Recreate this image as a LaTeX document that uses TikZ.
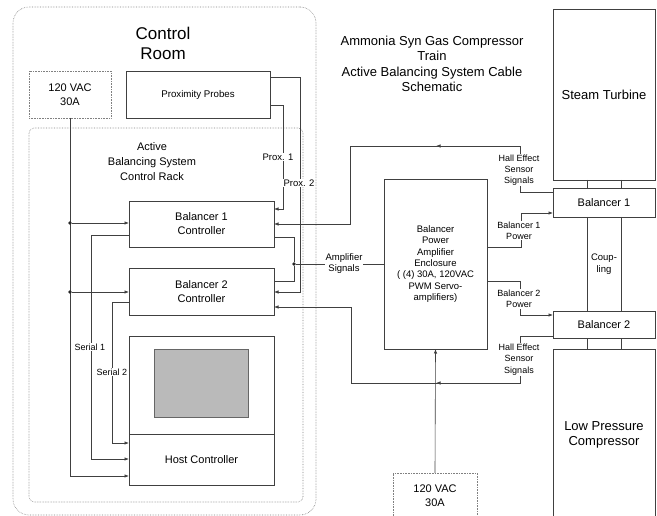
\documentclass[tikz,border=0pt]{standalone}
\usepackage{fontspec}
\setmainfont{Liberation Sans}
\usetikzlibrary{arrows.meta}
\begin{document}
\begin{tikzpicture}[x=1pt,y=-1pt,
  ln/.style={draw=black!75,line width=0.6pt},
  arr/.style={ln,-{Latex[length=4.5pt,width=3.4pt]}},
  dotbox/.style={draw=black!50,densely dotted,line width=0.6pt,inner sep=0pt,outer sep=0pt,align=center},
  box/.style={draw=black!75,line width=0.6pt,inner sep=0pt,outer sep=0pt,align=center},
  lbl/.style={fill=white,inner sep=1pt,align=center},
  jdot/.style={circle,fill=black!85,inner sep=0pt,minimum size=3.6pt},
  fnine/.style={font=\fontsize{9}{11.3}\selectfont},
  fninehalf/.style={font=\fontsize{9.5}{11.3}\selectfont},
  feleven/.style={font=\fontsize{11}{14}\selectfont},
  fthirteen/.style={font=\fontsize{13}{15.5}\selectfont}
]
\useasboundingbox (0,0) rectangle (657,516);

% containers
\node[dotbox,rounded corners=16pt,minimum width=303,minimum height=508] (room) at (164.5,261) {};
\node[align=center,font=\fontsize{17}{20}\selectfont] (roomlbl) at (163,43) {Control\\Room};
\node[dotbox,rounded corners=5pt,minimum width=274,minimum height=374] (rack) at (166,315) {};
\node[align=center,font=\fontsize{11}{15}\selectfont] (racklbl) at (152,162) {Active\\Balancing System\\Control Rack};

% title
\node[align=center,fthirteen] (title) at (432,64) {Ammonia Syn Gas Compressor\\Train\\Active Balancing System Cable\\Schematic};

% control room boxes
\node[dotbox,feleven,minimum width=82,minimum height=47] (vacA) at (70,94.5) {120 VAC\\30A};
\node[box,font=\fontsize{9.7}{12}\selectfont,minimum width=144,minimum height=47] (pp) at (198,94.5) {Proximity Probes};
\node[box,feleven,minimum width=145,minimum height=46] (b1c) at (201.5,224) {Balancer 1\\Controller};
\node[box,feleven,minimum width=145,minimum height=47] (b2c) at (201.5,291.5) {Balancer 2\\Controller};
\node[box,minimum width=145,minimum height=98] (hdisp) at (201.5,385) {};
\node[draw=black!60,fill=black!27,line width=0.5pt,inner sep=0pt,minimum width=94,minimum height=68] (screen) at (201,383) {};
\node[box,feleven,minimum width=145,minimum height=51] (host) at (201.5,459.5) {Host Controller};

% right side machinery
\node[box,fthirteen,minimum width=102,minimum height=171] (st) at (604,94.5) {Steam Turbine};
\node[box,feleven,minimum width=102,minimum height=29] (bal1) at (604,202.5) {Balancer 1};
\node[box,feleven,minimum width=102,minimum height=27] (bal2) at (604,324.5) {Balancer 2};
\node[box,minimum width=102,minimum height=181] (lpc) at (604,439.5) {};
\node[align=center,fthirteen] (lpclbl) at (604,435) {Low Pressure\\Compressor};

% amplifier enclosure and supply
\node[box,fninehalf,minimum width=103,minimum height=170] (enc) at (435.5,264) {Balancer\\Power\\Amplifier\\Enclosure\\( (4) 30A, 120VAC\\PWM Servo-\\amplifiers)};
\node[dotbox,minimum width=84,minimum height=57] (vacB) at (435,501.5) {};
\node[align=center,feleven] (vacBlbl) at (435,496) {120 VAC\\30A};

% shafts / coupling
\foreach \sx in {587,621}{
  \draw[ln] (st.south -| \sx,0) -- (bal1.north -| \sx,0);
  \draw[ln] (bal1.south -| \sx,0) -- (bal2.north -| \sx,0);
  \draw[ln] (bal2.south -| \sx,0) -- (lpc.north -| \sx,0);
}
\node[align=center,font=\fontsize{9.5}{12}\selectfont,fill=white,inner sep=0.5pt] (coup) at (604,264) {Coup-\\ling};

% power bus in rack
\coordinate (pwrend) at (70,476);
\draw[arr] (vacA.south) |- (host.west |- pwrend);
\node[jdot] (j1) at (70,223) {};
\node[jdot] (j2) at (70,292) {};
\draw[arr] (j1) -- (b1c.west |- j1);
\draw[arr] (j2) -- (b2c.west |- j2);

% serial links
\coordinate (s1) at (91,459);
\coordinate (s2) at (112,443);
\draw[arr] (b1c.west |- 0,235) -| (s1) -- (host.west |- s1);
\draw[arr] (b2c.west |- 0,302) -| (s2) -- (host.west |- s2);
\node[lbl,fnine] (s1lbl) at (90,347) {Serial 1};
\node[lbl,fnine] (s2lbl) at (112,372) {Serial 2};

% proximity probes
\coordinate (p1) at (283,105);
\coordinate (p2) at (300,77);
\draw[arr] (pp.east |- p1) -- (p1) |- (b1c.east |- 0,209);
\draw[arr] (pp.east |- p2) -- (p2) |- (b2c.east |- 0,292);
\node[lbl,font=\fontsize{9.5}{11}\selectfont] (p1lbl) at (278,157) {Prox. 1};
\node[lbl,font=\fontsize{9.5}{11}\selectfont] (p2lbl) at (299,183) {Prox. 2};

% amplifier signals
\node[jdot] (aj) at (294,264) {};
\draw[ln] (b1c.east |- 0,237) -| (aj) |- (b2c.east |- 0,281);
\draw[ln] (aj) -- (enc.west |- aj);
\node[lbl,font=\fontsize{9.5}{11}\selectfont] (amplbl) at (344,264) {Amplifier\\Signals};

% hall effect signals (top)
\coordinate (h1a) at (520,192);
\coordinate (h1b) at (520,146);
\coordinate (h1c) at (350,146);
\coordinate (h1d) at (350,224);
\coordinate (h1m) at (436,146);
\draw[arr] (bal1.west |- h1a) -- (h1a) -- (h1b) -- (h1c) -- (h1d) -- (b1c.east |- h1d);
\draw[arr] (h1b) -- (h1m);
\node[lbl,fnine] (h1lbl) at (519,170) {Hall Effect\\Sensor\\Signals};

% hall effect signals (bottom)
\coordinate (h2a) at (520,336);
\coordinate (h2b) at (520,383);
\coordinate (h2c) at (351,383);
\coordinate (h2d) at (351,307);
\coordinate (h2m) at (436,383);
\draw[arr] (bal2.west |- h2a) -- (h2a) -- (h2b) -- (h2c) -- (h2d) -- (b2c.east |- h2d);
\draw[arr] (h2b) -- (h2m);
\node[lbl,fnine] (h2lbl) at (519,359.5) {Hall Effect\\Sensor\\Signals};

% balancer power
\coordinate (bp1a) at (521,247);
\coordinate (bp1b) at (521,213);
\draw[arr] (enc.east |- bp1a) -- (bp1a) -- (bp1b) -- (bal1.west |- bp1b);
\node[lbl,fnine] (bp1lbl) at (519,230.5) {Balancer 1\\Power};
\coordinate (bp2a) at (520,281);
\coordinate (bp2b) at (520,315);
\draw[arr] (enc.east |- bp2a) -- (bp2a) -- (bp2b) -- (bal2.west |- bp2b);
\node[lbl,fnine] (bp2lbl) at (519,298.7) {Balancer 2\\Power};

% supply to enclosure
\draw[arr] (vacB.north) -- (enc.south);
\end{tikzpicture}
\end{document}
